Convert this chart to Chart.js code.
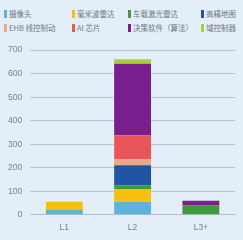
<!DOCTYPE html>
<html>
<head>
<meta charset="utf-8">
<script src="https://cdn.jsdelivr.net/npm/chart.js@4"></script>
<style>
  html, body { margin: 0; padding: 0; background: #e3eef8; }
  body { width: 243px; height: 240px; overflow: hidden; position: relative;
         font-family: "Noto Sans CJK SC", "Noto Sans", sans-serif; }
  #legend { position: absolute; left: 4px; top: 9px; width: 239px;
            display: grid; grid-template-columns: 68px 56px 73px 42px; row-gap: 4px; }
  .item { font-size: 7.5px; color: #6f7780; line-height: 10px; white-space: nowrap; }
  .box { display: inline-block; width: 3px; height: 8px; margin-right: 2px; vertical-align: -1px; }
  #wrap { position: absolute; left: 0; top: 37px; width: 243px; height: 203px; }
</style>
</head>
<body>
<div id="legend"></div>
<div id="wrap"><canvas id="c"></canvas></div>
<script>
// 数据
const categories = ['L1', 'L2', 'L3+'];
const seriesNames = ['摄像头', '毫米波雷达', '车载激光雷达', '高精地图', 'EHB 线控制动', 'AI 芯片', '决策软件（算法）', '域控制器'];
const camera = [20, 55, 0];
const radar = [35, 55, 0];
const lidar = [0, 15, 37];
const hdMap = [0, 86, 0];
const ehb = [0, 25, 0];
const aiChip = [0, 102, 5];
const software = [0, 304, 18];
const domainCtrl = [0, 19, 0];
const yTicks = [0, 100, 200, 300, 400, 500, 600, 700];

const colors = ['#5db3dc', '#f8bf10', '#3e9a3c', '#1f55a3', '#e6a98a', '#e9565a', '#7a1e8e', '#a6d03a'];
const values = [camera, radar, lidar, hdMap, ehb, aiChip, software, domainCtrl];

const ctx = document.getElementById('c').getContext('2d');
const chart = new Chart(ctx, {
    type: 'bar',
    data: {
        labels: categories,
        datasets: seriesNames.map((name, i) => ({
            label: name,
            data: values[i],
            backgroundColor: colors[i],
            borderWidth: 0,
            barPercentage: 0.54,
            categoryPercentage: 1
        }))
    },
    options: {
        responsive: true,
        maintainAspectRatio: false,
        animation: false,
        layout: { padding: { top: 6, right: 8, left: 0, bottom: 7 } },
        plugins: { legend: { display: false }, tooltip: { enabled: false } },
        scales: {
            x: {
                stacked: true,
                grid: { display: false },
                border: { color: '#b3bfc9' },
                ticks: { color: '#7a8088', font: { size: 8.5 }, padding: 0 }
            },
            y: {
                stacked: true,
                min: 0,
                max: 700,
                afterBuildTicks: (axis) => { axis.ticks = yTicks.map(v => ({ value: v })); },
                grid: { color: '#b8c4ce', drawTicks: false },
                border: { display: false },
                ticks: { color: '#7a8088', font: { size: 8.5 }, padding: 8 }
            }
        }
    }
});

// 图例
const legendEl = document.getElementById('legend');
chart.data.datasets.forEach(ds => {
    const item = document.createElement('div');
    item.className = 'item';
    const box = document.createElement('span');
    box.className = 'box';
    box.style.background = ds.backgroundColor;
    item.appendChild(box);
    item.appendChild(document.createTextNode(ds.label));
    legendEl.appendChild(item);
});
</script>
</body>
</html>
